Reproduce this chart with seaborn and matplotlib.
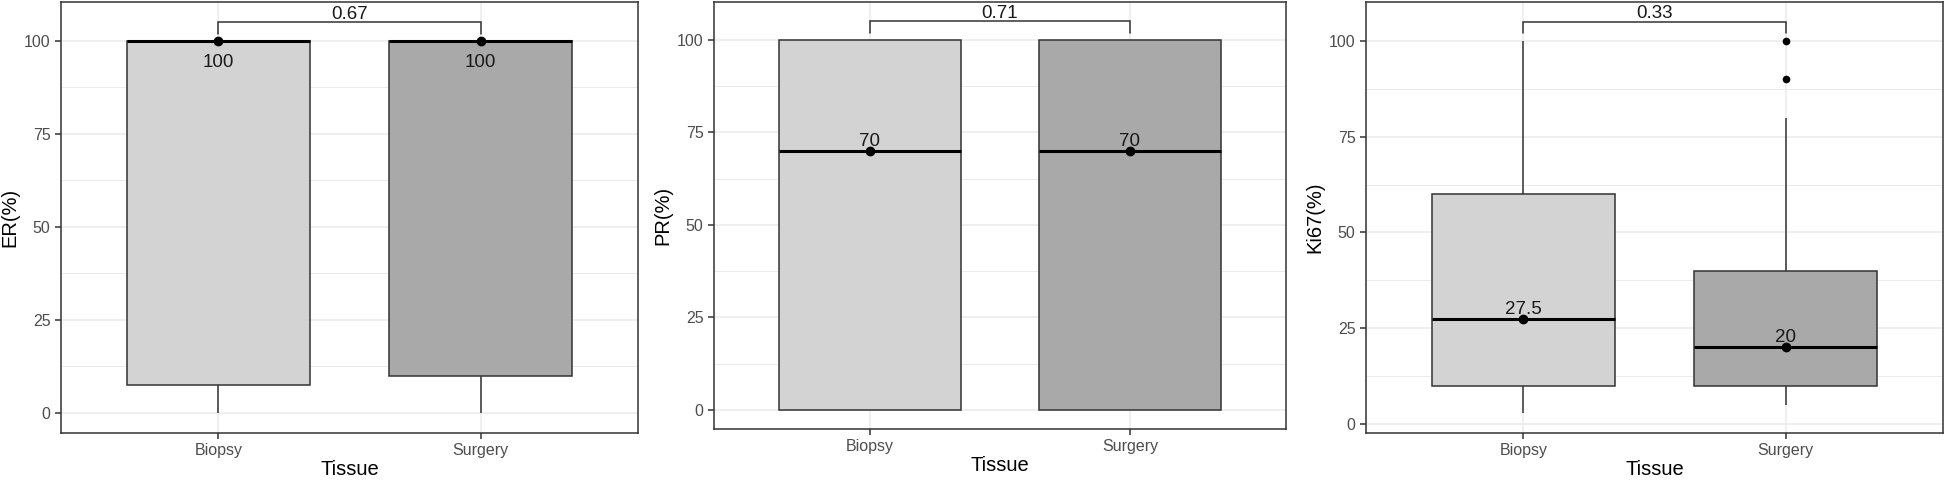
import numpy as np
import pandas as pd
import matplotlib
matplotlib.use("Agg")
import matplotlib.pyplot as plt
import seaborn as sns
from matplotlib.ticker import MultipleLocator

# ----------------------------------------------------------
# DATA
# ----------------------------------------------------------

tissues = ["Biopsy", "Surgery"]
markers = ["ER", "PR", "Ki67"]
y_labels = ["ER(%)", "PR(%)", "Ki67(%)"]

er_biopsy = [0, 5, 7.5, 100, 100, 100, 100, 100, 100]
er_surgery = [0, 5, 10, 100, 100, 100, 100, 100, 100]

pr_biopsy = [0, 0, 0, 30, 70, 90, 100, 100, 100]
pr_surgery = [0, 0, 0, 50, 70, 80, 100, 100, 100]

ki67_biopsy = [3, 5, 10, 20, 27.5, 40, 60, 80, 100]
ki67_surgery = [5, 5, 10, 10, 15, 20, 20, 30, 40, 40, 80, 90, 100]

p_values = ["0.67", "0.71", "0.33"]
bracket_y = [105, 105, 105]

groups = {
    "ER": (er_biopsy, er_surgery),
    "PR": (pr_biopsy, pr_surgery),
    "Ki67": (ki67_biopsy, ki67_surgery),
}

rows = []
for marker in markers:
    for tissue, vals in zip(tissues, groups[marker]):
        for v in vals:
            rows.append({"Marker": marker, "Tissue": tissue, "Value": v})
df = pd.DataFrame(rows)

# ----------------------------------------------------------
# STYLE / LAYOUT
# ----------------------------------------------------------

sns.set_style("white")
plt.rcParams["font.family"] = ["Liberation Sans", "DejaVu Sans"]

fill_colors = {"Biopsy": "#D3D3D3", "Surgery": "#A9A9A9"}
edge = "#333333"
grid_col = "#EBEBEB"

W, H = 1946, 482
# axes boxes in pixels: left, top, right, bottom
boxes = [(61, 2, 638, 433), (714, 2, 1286, 429), (1366, 2, 1943, 433)]
ylims = [(-5.38, 110.48), (-5.14, 110.27), (-2.35, 110.18)]

fig = plt.figure(figsize=(W / 100, H / 100), dpi=100)

for i, marker in enumerate(markers):
    l, t, r, b = boxes[i]
    ax = fig.add_axes([l / W, (H - b) / H, (r - l) / W, (b - t) / H])
    sub = df[df["Marker"] == marker]

    sns.boxplot(
        data=sub, x="Tissue", y="Value", hue="Tissue",
        order=tissues, hue_order=tissues, palette=fill_colors,
        saturation=1, width=0.7, linecolor=edge, linewidth=1.1,
        showcaps=False, fliersize=4.5,
        flierprops=dict(marker="o", markerfacecolor="black",
                        markeredgecolor="black"),
        medianprops=dict(color="black", linewidth=2.2),
        legend=False, ax=ax,
    )

    sns.pointplot(
        data=sub, x="Tissue", y="Value", order=tissues,
        estimator="median", errorbar=None, color="black",
        linestyle="none", marker="o", markersize=5, ax=ax,
    )

    # median labels
    medians = sub.groupby("Tissue")["Value"].median().reindex(tissues)
    for j, m in enumerate(medians):
        if m >= 100:
            ax.annotate(f"{m:g}", (j, m), xytext=(0, -18.5),
                        textcoords="offset points", ha="center",
                        va="baseline", fontsize=13.5, color="#1a1a1a")
        else:
            ax.annotate(f"{m:g}", (j, m), xytext=(0, 3.6),
                        textcoords="offset points", ha="center",
                        va="baseline", fontsize=13.5, color="#1a1a1a")

    # comparison bracket + p-value
    yb = bracket_y[i]
    ax.plot([0, 0, 1, 1], [yb - 3, yb, yb, yb - 3], color=edge, lw=1.1,
            solid_joinstyle="miter")
    ax.annotate(p_values[i], (0.5, yb), xytext=(0, 2.7),
                textcoords="offset points", ha="center", va="baseline",
                fontsize=13.5, color="#1a1a1a")

    ax.set_xlim(-0.6, 1.6)
    ax.set_ylim(*ylims[i])
    ax.set_yticks([0, 25, 50, 75, 100])
    ax.yaxis.set_minor_locator(MultipleLocator(12.5))
    ax.set_axisbelow(True)
    ax.grid(which="major", color=grid_col, lw=1.1)
    ax.grid(which="minor", axis="y", color=grid_col, lw=0.7)

    ax.tick_params(which="major", length=4, width=1.1, color=edge,
                   labelsize=11.5, labelcolor="#4D4D4D", pad=3.5,
                   left=True, bottom=True)
    ax.tick_params(which="minor", length=0)
    for s in ax.spines.values():
        s.set_color(edge)
        s.set_linewidth(1.1)

    ax.set_xlabel("Tissue", fontsize=14.5, labelpad=1, color="black")
    ax.set_ylabel(y_labels[i], fontsize=14.5, labelpad=3, color="black")

fig.savefig("out.png", dpi=100)
